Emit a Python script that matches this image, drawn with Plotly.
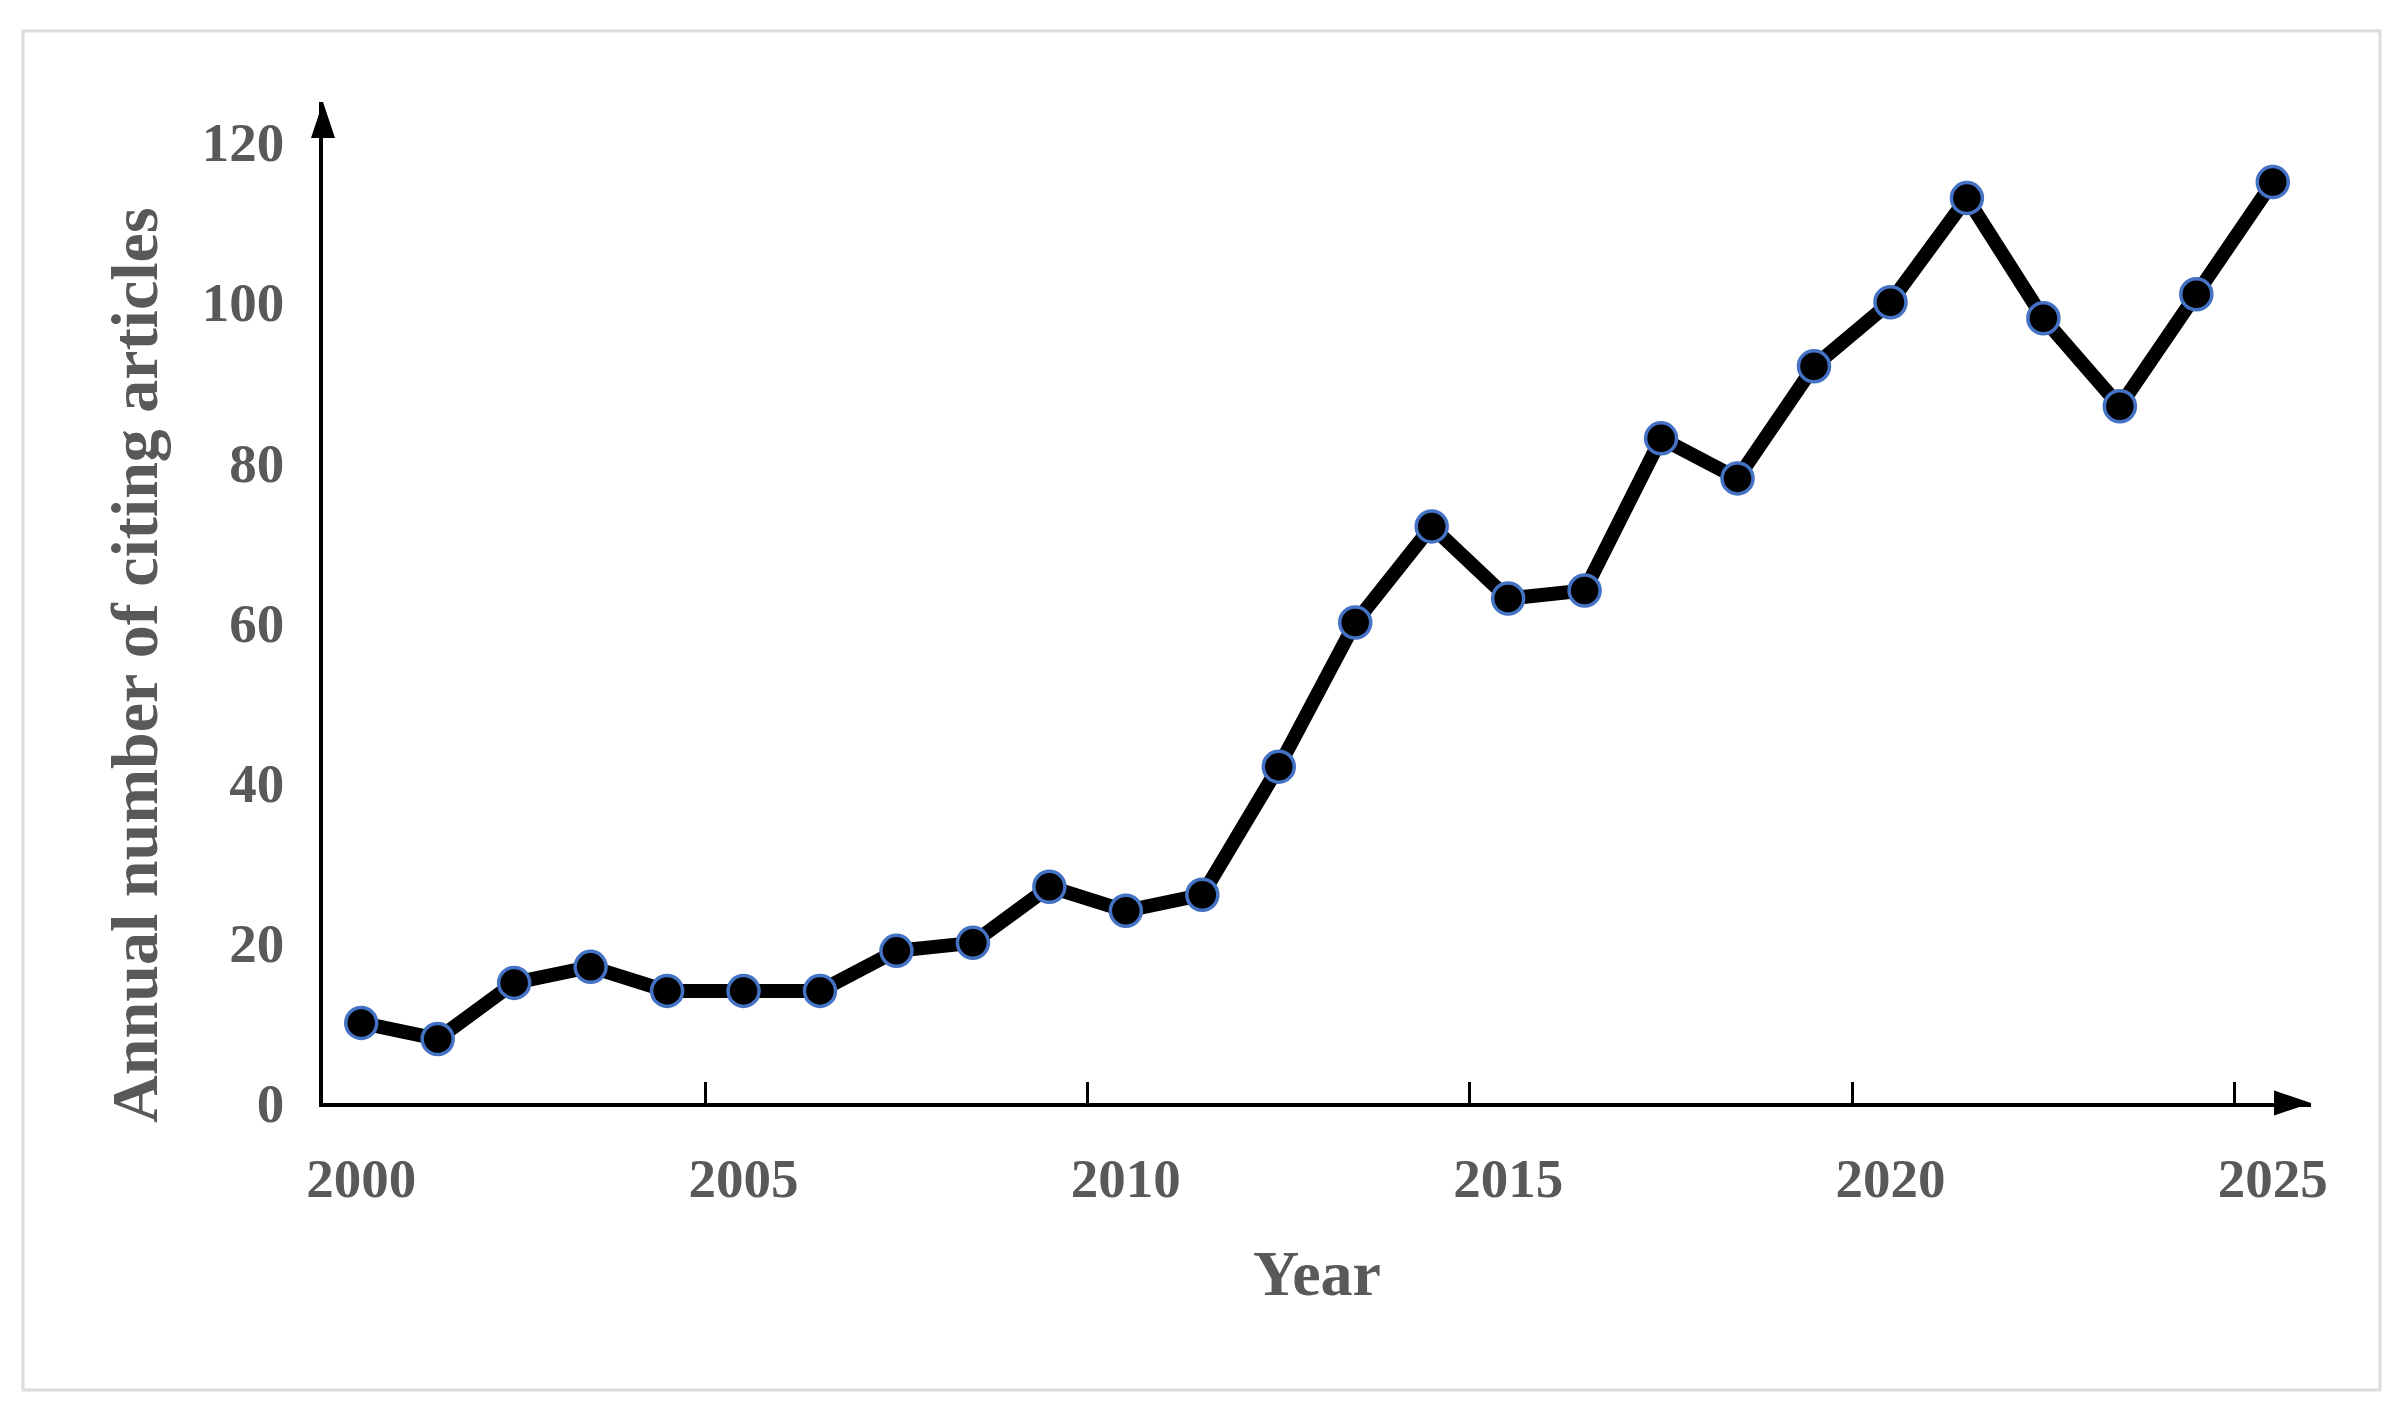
import plotly.graph_objects as go

# annual citing articles
years = list(range(2000, 2026))
citing = [10, 8, 15, 17, 14, 14, 14, 19, 20, 27, 24, 26, 42, 60, 72,
          63, 64, 83, 78, 92, 100, 113, 98, 87, 101, 115]
label_years = [2000, 2005, 2010, 2015, 2020, 2025]
y_ticks = [0, 20, 40, 60, 80, 100, 120]

txt = "#595959"
serif = "Liberation Serif, Times New Roman, serif"

fig = go.Figure()
fig.add_trace(go.Scatter(
    x=years, y=citing,
    mode="lines+markers",
    line=dict(color="black", width=14),
    marker=dict(size=31, color="black", line=dict(color="#4472C4", width=3.5)),
    cliponaxis=False,
    showlegend=False,
))

x_lo, x_hi = years[0] - 0.5, years[-1] + 0.5
y_top = 125

fig.update_xaxes(
    range=[x_lo, x_hi],
    tickmode="array", tickvals=label_years, ticks="",
    ticklabelstandoff=24,
    minor=dict(tickmode="array", tickvals=[y - 0.5 for y in label_years[1:]],
               ticks="inside", ticklen=21, tickwidth=2.5, tickcolor="black"),
    showline=True, linecolor="black", linewidth=3.5,
    showgrid=False, zeroline=False,
    tickfont=dict(family=serif, size=55, color=txt, weight="bold"),
    title=dict(text="Year", standoff=43,
               font=dict(family=serif, size=64, color=txt, weight="bold")),
)
fig.update_yaxes(
    range=[0, y_top],
    tickmode="array", tickvals=y_ticks, ticks="",
    ticklabelstandoff=24,
    showline=True, linecolor="black", linewidth=3.5,
    showgrid=False, zeroline=False,
    tickfont=dict(family=serif, size=55, color=txt, weight="bold"),
)

# y title sits a little below the axis centre, as in the original
fig.add_annotation(text="Annual number of citing articles", textangle=-90,
                   xref="paper", yref="paper", x=-0.0946, y=0.4376,
                   xanchor="center", yanchor="middle", showarrow=False,
                   font=dict(family=serif, size=66, color=txt, weight="bold"))

# arrow heads at the axis ends
fig.add_shape(type="path", xref="paper", yref="paper", xsizemode="pixel", ysizemode="pixel",
              xanchor=0, yanchor=1, path="M0,0 L-12,-36 L12,-36 Z",
              fillcolor="black", line=dict(width=0))
fig.add_shape(type="path", xref="paper", yref="paper", xsizemode="pixel", ysizemode="pixel",
              xanchor=1, yanchor=0, path="M0,0 L-37,-12.5 L-37,12.5 Z",
              fillcolor="black", line=dict(width=0))

# light frame around the whole figure
fig.add_shape(type="rect", xref="paper", yref="paper",
              x0=-0.1509, x1=1.0347, y0=-0.2867, y1=1.0709,
              line=dict(color="#dcdcdc", width=3), layer="below")

fig.update_layout(
    width=2391, height=1406,
    margin=dict(l=315, r=88, t=94, b=311),
    plot_bgcolor="white", paper_bgcolor="white",
)

fig.write_html("out.html")
